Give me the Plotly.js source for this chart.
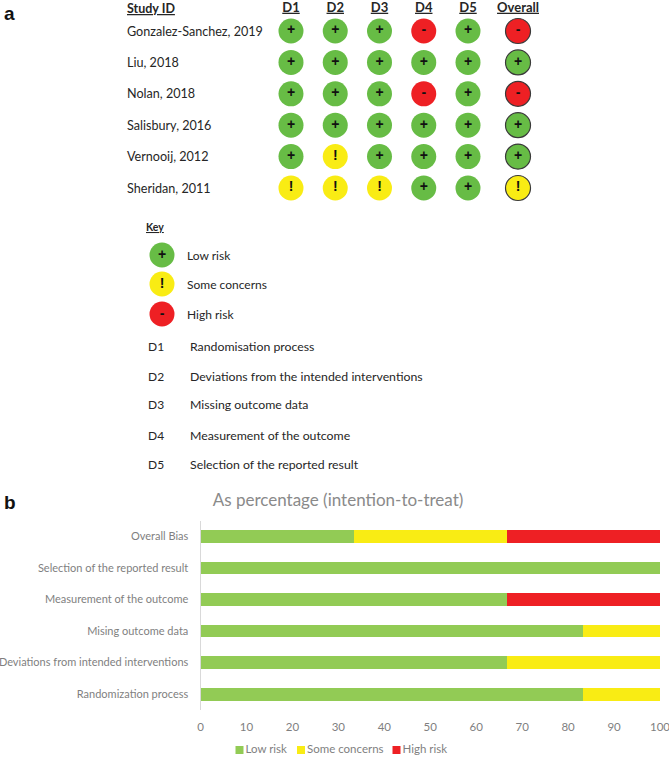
<!DOCTYPE html>
<html>
<head>
<meta charset="utf-8">
<script src="https://cdn.plot.ly/plotly-3.0.1.min.js"></script>
<style>html,body{margin:0;padding:0;background:#fff}</style>
</head>
<body>
<div id="chart" style="width:669px;height:757px"></div>
<script>
// ---- Panel a data ----
const studies = ["Gonzalez-Sanchez, 2019","Liu, 2018","Nolan, 2018","Salisbury, 2016","Vernooij, 2012","Sheridan, 2011"];
const domains = ["D1","D2","D3","D4","D5","Overall"];
const D1 = ["+","+","+","+","+","!"];
const D2 = ["+","+","+","+","!","!"];
const D3 = ["+","+","+","+","+","!"];
const D4 = ["-","+","-","+","+","+"];
const D5 = ["+","+","+","+","+","+"];
const Overall = ["-","+","-","+","+","!"];
const keyLabels = ["Low risk","Some concerns","High risk"];
const keySymbols = ["+","!","-"];
const domainCodes = ["D1","D2","D3","D4","D5"];
const domainNames = ["Randomisation process","Deviations from the intended interventions","Missing outcome data","Measurement of the outcome","Selection of the reported result"];
// ---- Panel b data ----
const biasCategories = ["Randomization process","Deviations from intended interventions","Mising outcome data","Measurement of the outcome","Selection of the reported result","Overall Bias"];
const lowRisk = [83.33,66.67,83.33,66.67,100,33.33];
const someConcerns = [16.67,33.33,16.67,0,0,33.33];
const highRisk = [0,0,0,33.33,0,33.33];
const xTicks = [0,10,20,30,40,50,60,70,80,90,100];

// ---- Styles and layout ----
const W=669,H=757;
const dotColor={"+":"#67bc45","!":"#f9ec14","-":"#ee2024"};
const barColor=["#92cb55","#f9ec14","#ee2024"];
const FONT="Lato, 'Open Sans', sans-serif";
const SYM="Liberation Sans, Arial, sans-serif";
const TXT="#262626", GREY="#7f7f7f";
const columnSlots=[0,1,2,3,4,5.13];
const px=x=>x/W, py=y=>1-y/H;

const matrix=[D1,D2,D3,D4,D5,Overall];
const traces=[];
matrix.forEach((col,i)=>{
  traces.push({
    type:"scatter",mode:"markers+text",xaxis:"x2",yaxis:"y2",showlegend:false,hoverinfo:"skip",
    x:studies.map(()=>columnSlots[i]),y:studies,text:col,
    textposition:"middle center",
    textfont:{family:SYM,size:14,weight:"bold",color:"#111"},
    marker:{size:25,color:col.map(s=>dotColor[s]),
      line:{width:i===5?1.2:0,color:"#3a3a3a"}}
  });
});
// key circles
traces.push({
  type:"scatter",mode:"markers+text",xaxis:"x3",yaxis:"y3",showlegend:false,hoverinfo:"skip",
  x:[162,162,162],y:[255,284,314],text:keySymbols,textposition:"middle center",
  textfont:{family:SYM,size:14,weight:"bold",color:"#111"},
  marker:{size:25,color:keySymbols.map(s=>dotColor[s]),line:{width:0}}
});
// bars
[["Low risk",lowRisk],["Some concerns",someConcerns],["High risk",highRisk]].forEach(([n,v],i)=>{
  traces.push({type:"bar",orientation:"h",name:n,x:v,y:biasCategories,showlegend:false,marker:{color:barColor[i],line:{width:0}},hoverinfo:"skip"});
});
// compact legend of the bar chart
traces.push({
  type:"scatter",mode:"markers+text",xaxis:"x3",yaxis:"y3",showlegend:false,hoverinfo:"skip",
  x:[239.5,301,396.5],y:[750,750,750],text:keyLabels,textposition:"middle right",
  textfont:{family:FONT,size:11.5,color:GREY},
  marker:{symbol:"square",size:8,color:barColor,line:{width:0}}
});

const ann=[];
const addText=(t,x,y,size,color,extra)=>ann.push(Object.assign({text:t,x:px(x),y:py(y),xref:"paper",yref:"paper",xanchor:"left",yanchor:"middle",showarrow:false,
  font:{family:FONT,size:size,color:color}},extra||{}));
addText("<b>a</b>",2,13,19,"#111",{font:{family:SYM,size:19,color:"#111"}});
addText("<b>b</b>",2,502,19,"#111",{font:{family:SYM,size:19,color:"#111"}});
addText("<b><u>Study ID</u></b>",125,8,12.5,TXT);
studies.forEach(s=>ann.push({text:s,xref:"paper",x:px(125),yref:"y2",y:s,xanchor:"left",yanchor:"middle",showarrow:false,font:{family:FONT,size:12.6,color:TXT}}));
addText("<b><u>Key</u></b>",143.5,227,10.5,TXT);
keyLabels.forEach((t,i)=>addText(t,185,[255,285,314][i],12,TXT));
domainCodes.forEach((t,i)=>addText(t,146,[346.5,376,405,435,464][i],12,TXT));
domainNames.forEach((t,i)=>addText(t,188,[346.5,376,405,435,464][i],12.3,TXT));

const layout={
  width:W,height:H,margin:{l:0,r:0,t:0,b:0},paper_bgcolor:"#fff",plot_bgcolor:"rgba(0,0,0,0)",
  font:{family:FONT,color:GREY},
  title:{text:"As percentage (intention-to-treat)",x:px(338),xanchor:"center",y:py(500),yanchor:"middle",xref:"paper",yref:"paper",font:{family:FONT,size:17,color:"#8a8a8a"}},
  barmode:"stack",bargap:0.6,
  showlegend:false,
  xaxis:{domain:[px(200.5),px(660)],anchor:"y",range:[0,100],tickvals:xTicks,showgrid:false,zeroline:false,showline:false,ticks:"",ticklabeloverflow:"allow",ticklabelstandoff:8,tickfont:{family:FONT,size:11.5,color:GREY}},
  yaxis:{domain:[py(710),py(520.5)],anchor:"x",type:"category",categoryorder:"array",categoryarray:biasCategories,range:[-0.5,5.5],showgrid:false,zeroline:false,showline:true,linecolor:"#d9d9d9",linewidth:1,ticks:"",ticklabelstandoff:9,tickfont:{family:FONT,size:11,color:GREY}},
  xaxis2:{domain:[px(269),px(540)],anchor:"y2",side:"top",range:[-0.497,5.627],tickvals:columnSlots,ticktext:domains.map(d=>"<b><u>"+d+"</u></b>"),showgrid:false,zeroline:false,showline:false,ticks:"",tickfont:{family:FONT,size:13,color:TXT}},
  yaxis2:{domain:[py(203.7),py(15.3)],anchor:"x2",type:"category",categoryorder:"array",categoryarray:studies,range:[5.5,-0.5],showgrid:false,zeroline:false,showline:false,showticklabels:false,ticks:""},
  xaxis3:{domain:[0,1],anchor:"y3",range:[0,W],visible:false},
  yaxis3:{domain:[0,1],anchor:"x3",range:[H,0],visible:false},
  annotations:ann
};
Plotly.newPlot("chart",traces,layout,{displayModeBar:false,staticPlot:true});
</script>
</body>
</html>
